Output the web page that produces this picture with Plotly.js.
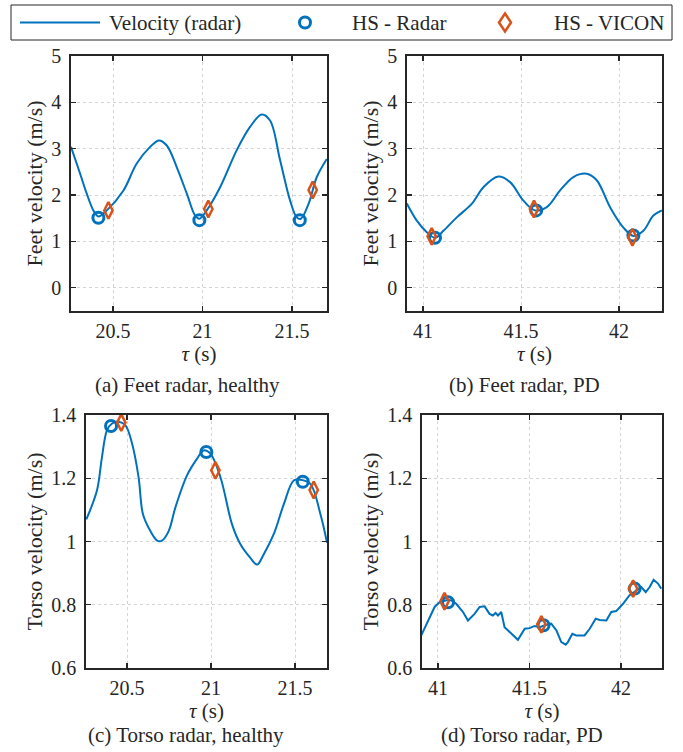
<!DOCTYPE html>
<html>
<head>
<meta charset="utf-8">
<script src="https://cdn.plot.ly/plotly-3.0.1.min.js"></script>
<style>html,body{margin:0;padding:0;background:#fff;}#plot{width:683px;height:752px;}</style>
</head>
<body>
<div id="plot"></div>
<script>
// ---- (a) Feet radar, healthy ----
const tauA = [20.265,20.316,20.353,20.39,20.418,20.465,20.558,20.632,20.707,20.757,20.80,20.856,20.912,20.958,20.982,21.023,21.098,21.191,21.265,21.33,21.377,21.433,21.489,21.526,21.549,21.592,21.638,21.694];
const velA = [3.04,2.46,2.03,1.67,1.54,1.67,2.10,2.68,3.04,3.18,3.07,2.60,2.03,1.56,1.49,1.67,2.17,2.97,3.47,3.74,3.61,2.75,1.88,1.52,1.49,1.81,2.39,2.78];
const hsRadarTauA = [20.418,20.982,21.543];
const hsRadarVelA = [1.51,1.46,1.46];
const hsViconTauA = [20.474,21.032,21.615];
const hsViconVelA = [1.67,1.70,2.11];

// ---- (b) Feet radar, PD ----
const tauB = [40.917,40.968,41.019,41.061,41.104,41.172,41.248,41.308,41.384,41.444,41.512,41.571,41.631,41.699,41.767,41.835,41.886,41.954,42.022,42.073,42.124,42.175,42.218];
const velB = [1.82,1.45,1.20,1.08,1.23,1.52,1.81,2.17,2.40,2.28,1.88,1.67,1.74,2.10,2.39,2.46,2.32,1.74,1.30,1.12,1.23,1.56,1.67];
const hsRadarTauB = [41.061,41.577,42.073];
const hsRadarVelB = [1.08,1.67,1.13];
const hsViconTauB = [41.044,41.566,42.068];
const hsViconVelB = [1.11,1.70,1.09];

// ---- (c) Torso radar, healthy ----
const tauC = [20.258,20.321,20.351,20.381,20.411,20.450,20.490,20.530,20.569,20.595,20.639,20.679,20.708,20.748,20.788,20.857,20.917,20.956,20.996,21.056,21.125,21.175,21.234,21.274,21.313,21.373,21.433,21.492,21.532,21.591,21.651,21.690];
const velC = [1.070,1.161,1.267,1.352,1.373,1.379,1.368,1.310,1.203,1.086,1.033,1.003,1.003,1.033,1.108,1.209,1.262,1.288,1.278,1.203,1.054,0.991,0.948,0.927,0.959,1.023,1.118,1.193,1.195,1.182,1.086,0.996];
const hsRadarTauC = [20.405,20.972,21.546];
const hsRadarVelC = [1.365,1.283,1.189];
const hsViconTauC = [20.466,21.026,21.611];
const hsViconVelC = [1.376,1.225,1.163];

// ---- (d) Torso radar, PD ----
const tauD = [40.909,40.945,40.982,41.009,41.046,41.073,41.100,41.137,41.164,41.200,41.228,41.255,41.282,41.300,41.315,41.328,41.346,41.364,41.401,41.437,41.474,41.501,41.528,41.556,41.583,41.619,41.647,41.674,41.698,41.710,41.734,41.756,41.801,41.829,41.862,41.883,41.920,41.947,41.974,42.011,42.047,42.084,42.111,42.135,42.157,42.178,42.202,42.220];
const velD = [0.703,0.750,0.793,0.808,0.814,0.814,0.803,0.777,0.750,0.771,0.793,0.795,0.771,0.766,0.774,0.766,0.777,0.729,0.708,0.689,0.724,0.726,0.733,0.729,0.735,0.740,0.719,0.682,0.674,0.682,0.708,0.703,0.703,0.724,0.756,0.752,0.750,0.777,0.780,0.803,0.830,0.845,0.856,0.840,0.856,0.879,0.867,0.851];
const hsRadarTauD = [41.055,41.577,42.075];
const hsRadarVelD = [0.808,0.735,0.851];
const hsViconTauD = [41.036,41.565,42.066];
const hsViconVelD = [0.811,0.738,0.851];

const seriesNames = ['Velocity (radar)','HS - Radar','HS - VICON'];
const feetTicks = [0,1,2,3,4,5];
const torsoTicks = [0.6,0.8,1,1.2,1.4];
const torsoTickText = ['0.6','0.8','1','1.2','1.4'];
const ticksHealthy = [20.5,21,21.5];
const ticksPD = [41,41.5,42];
const captions = ['(a) Feet radar, healthy','(b) Feet radar, PD','(c) Torso radar, healthy','(d) Torso radar, PD'];

const BLUE = '#0072BD', ORANGE = '#D95319', INK = '#262626';
const FONT = 'Liberation Serif';
const W = 683, H = 752;
const px = v => v / W, py = v => 1 - v / H;

function panel(tau, vel, rt, rv, vt, vv, xa, ya, shape) {
  const xs = xa === 1 ? 'x' : 'x' + xa, ys = ya === 1 ? 'y' : 'y' + ya;
  return [
    {x: tau, y: vel, type: 'scatter', mode: 'lines', name: seriesNames[0], xaxis: xs, yaxis: ys,
     line: {color: BLUE, width: 2, shape: shape, smoothing: 1}, showlegend: false},
    {x: rt, y: rv, type: 'scatter', mode: 'markers', name: seriesNames[1], xaxis: xs, yaxis: ys,
     marker: {symbol: 'circle-open', size: 11, color: BLUE, line: {width: 3, color: BLUE}}, showlegend: false},
    {x: vt, y: vv, type: 'scatter', mode: 'markers', name: seriesNames[2], xaxis: xs, yaxis: ys,
     marker: {symbol: 'diamond-tall-open', size: 12, color: ORANGE, line: {width: 2.5, color: ORANGE}}, showlegend: false}
  ];
}

const data = [].concat(
  panel(tauA, velA, hsRadarTauA, hsRadarVelA, hsViconTauA, hsViconVelA, 1, 1, 'spline'),
  panel(tauB, velB, hsRadarTauB, hsRadarVelB, hsViconTauB, hsViconVelB, 2, 2, 'spline'),
  panel(tauC, velC, hsRadarTauC, hsRadarVelC, hsViconTauC, hsViconVelC, 3, 3, 'spline'),
  panel(tauD, velD, hsRadarTauD, hsRadarVelD, hsViconTauD, hsViconVelD, 4, 4, 'linear')
);

function xax(domain, range, ticks, anchor) {
  return {domain: domain, range: range, anchor: anchor, tickvals: ticks,
    ticks: 'inside', ticklen: 5, tickwidth: 1.3, tickcolor: INK,
    showline: true, linecolor: INK, linewidth: 1.8, mirror: 'ticks',
    showgrid: true, gridcolor: '#d4d4d4', griddash: 'dot', gridwidth: 1, zeroline: false,
    tickfont: {family: FONT, size: 20, color: INK}, ticklabelstandoff: 1,
    title: {text: '<i>τ</i> (s)', font: {family: FONT, size: 21, color: INK}, standoff: 4}};
}
function yax(domain, range, ticks, text, anchor, title) {
  return {domain: domain, range: range, anchor: anchor, tickvals: ticks, ticktext: text,
    ticks: 'inside', ticklen: 5, tickwidth: 1.3, tickcolor: INK,
    showline: true, linecolor: INK, linewidth: 1.8, mirror: 'ticks',
    showgrid: true, gridcolor: '#d4d4d4', griddash: 'dot', gridwidth: 1, zeroline: false,
    tickfont: {family: FONT, size: 20, color: INK}, ticklabelstandoff: 4,
    title: {text: title, font: {family: FONT, size: 22, color: INK}, standoff: 2}};
}

const domXA = [px(71), px(327)], domXB = [px(407), px(662)];
const domXC = [px(86), px(327)], domXD = [px(422), px(662)];
const domYTop = [py(311), py(56)], domYBot = [py(668), py(415)];

const capX = [187, 524, 186, 522], capY = [385, 385, 735, 735];

// legend key (drawn as a boxed key like the original figure)
const keyY = 22.5;
const keyTextX = [107, 350, 552];
const legendShapes = [
  {type: 'rect', xref: 'paper', yref: 'paper', x0: px(11), x1: px(672), y0: py(40), y1: py(5),
   line: {color: INK, width: 1}, fillcolor: 'rgba(0,0,0,0)'},
  {type: 'line', xref: 'paper', yref: 'paper', x0: px(20), x1: px(100), y0: py(keyY), y1: py(keyY),
   line: {color: BLUE, width: 2}},
  {type: 'circle', xref: 'paper', yref: 'paper', x0: px(299.5), x1: px(310.5), y0: py(28), y1: py(17),
   line: {color: BLUE, width: 3}, fillcolor: 'rgba(0,0,0,0)'},
  {type: 'path', xref: 'paper', yref: 'paper',
   path: 'M' + px(505) + ',' + py(keyY - 9) + ' L' + px(511) + ',' + py(keyY) + ' L' + px(505) + ',' + py(keyY + 9) + ' L' + px(499) + ',' + py(keyY) + ' Z',
   line: {color: ORANGE, width: 2.5}, fillcolor: 'rgba(0,0,0,0)'}
];
const legendTexts = seriesNames.map((s, i) => ({text: s, xref: 'paper', yref: 'paper',
  x: px(keyTextX[i]), y: py(keyY), xanchor: 'left', yanchor: 'middle', showarrow: false,
  font: {family: FONT, size: 21, color: INK}}));

const layout = {
  width: W, height: H,
  margin: {l: 0, r: 0, t: 0, b: 0},
  paper_bgcolor: '#fff', plot_bgcolor: '#fff',
  font: {family: FONT, color: INK},
  xaxis: xax(domXA, [20.265, 21.695], ticksHealthy, 'y'),
  yaxis: yax(domYTop, [-0.5, 5], feetTicks, feetTicks.map(String), 'x', 'Feet velocity (m/s)'),
  xaxis2: xax(domXB, [40.918, 42.219], ticksPD, 'y2'),
  yaxis2: yax(domYTop, [-0.5, 5], feetTicks, feetTicks.map(String), 'x2', 'Feet velocity (m/s)'),
  xaxis3: xax(domXC, [20.256, 21.69], ticksHealthy, 'y3'),
  yaxis3: yax(domYBot, [0.6, 1.4], torsoTicks, torsoTickText, 'x3', 'Torso velocity (m/s)'),
  xaxis4: xax(domXD, [40.913, 42.224], ticksPD, 'y4'),
  yaxis4: yax(domYBot, [0.6, 1.4], torsoTicks, torsoTickText, 'x4', 'Torso velocity (m/s)'),
  showlegend: false,
  shapes: legendShapes,
  annotations: legendTexts.concat(captions.map((c, i) => ({text: c, xref: 'paper', yref: 'paper',
    x: px(capX[i]), y: py(capY[i]), xanchor: 'center', yanchor: 'middle', showarrow: false,
    font: {family: FONT, size: 21, color: INK}})))
};

Plotly.newPlot('plot', data, layout, {displayModeBar: false, staticPlot: true});
</script>
</body>
</html>
